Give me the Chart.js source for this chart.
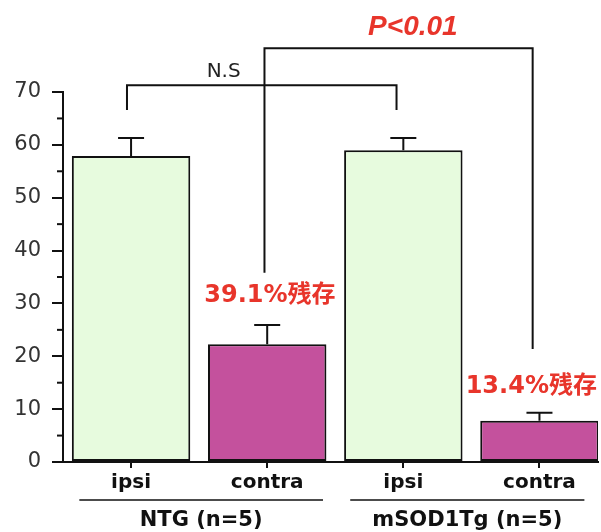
<!DOCTYPE html>
<html>
<head>
<meta charset="utf-8">
<script src="https://cdn.jsdelivr.net/npm/chart.js@4.4.1/dist/chart.umd.min.js"></script>
<style>
  html, body { margin: 0; padding: 0; background: #fff; }
  #wrap { width: 601px; height: 532px; }
</style>
</head>
<body>
<div id="wrap"><canvas id="c"></canvas></div>
<script>
  // ── Data ──
  var categories = ['ipsi', 'contra', 'ipsi', 'contra'];
  var values = [57.9, 22.3, 59.0, 7.8];
  var errors = [3.4, 3.6, 2.3, 1.5];
  var groups = ['NTG (n=5)', 'mSOD1Tg (n=5)'];
  var groupSpans = [[-0.38, 1.41], [1.61, 3.33]];
  var remainLabels = ['39.1%残存', '13.4%残存'];
  var yTicks = [0, 10, 20, 30, 40, 50, 60, 70];
  var yMinorTicks = [5, 15, 25, 35, 45, 55, 65];

  var GREEN = '#e7fbde';
  var MAGENTA = '#c4519d';
  var RED = '#e8352b';
  var INK = '#111';

  var barColors = [GREEN, MAGENTA, GREEN, MAGENTA];

  // ── Overlay plugin: error bars, minor ticks, brackets, labels ──
  var overlay = {
    id: 'overlay',
    afterDatasetsDraw: function (chart) {
      var ctx = chart.ctx;
      var x = chart.scales.x, y = chart.scales.y;
      var area = chart.chartArea;
      ctx.save();
      ctx.strokeStyle = INK;
      ctx.lineWidth = 2;
      ctx.lineCap = 'butt';

      // error bars (upper only)
      values.forEach(function (v, i) {
        var px = x.getPixelForValue(i);
        var top = y.getPixelForValue(v + errors[i]);
        ctx.beginPath();
        ctx.moveTo(px, y.getPixelForValue(v));
        ctx.lineTo(px, top);
        ctx.moveTo(px - 13, top);
        ctx.lineTo(px + 13, top);
        ctx.stroke();
      });

      // minor y ticks
      yMinorTicks.forEach(function (t) {
        var py = y.getPixelForValue(t);
        ctx.beginPath();
        ctx.moveTo(area.left - 6, py);
        ctx.lineTo(area.left, py);
        ctx.stroke();
      });

      // N.S bracket
      var l1 = x.getPixelForValue(-0.03), r1 = x.getPixelForValue(1.95);
      var top1 = y.getPixelForValue(71.3), leg1 = y.getPixelForValue(66.6);
      ctx.beginPath();
      ctx.moveTo(l1, leg1); ctx.lineTo(l1, top1); ctx.lineTo(r1, top1); ctx.lineTo(r1, leg1);
      ctx.stroke();

      // P bracket
      var l2 = x.getPixelForValue(0.98), r2 = x.getPixelForValue(2.95);
      var top2 = y.getPixelForValue(78.3);
      ctx.beginPath();
      ctx.moveTo(l2, y.getPixelForValue(35.8)); ctx.lineTo(l2, top2);
      ctx.lineTo(r2, top2); ctx.lineTo(r2, y.getPixelForValue(21.4));
      ctx.stroke();

      ctx.textAlign = 'center';
      ctx.textBaseline = 'middle';

      ctx.fillStyle = '#222';
      ctx.font = "20px 'DejaVu Sans'";
      ctx.fillText('N.S', x.getPixelForValue(0.68), y.getPixelForValue(73.9));

      ctx.fillStyle = RED;
      ctx.font = "italic bold 28px 'Liberation Sans'";
      ctx.fillText('P<0.01', x.getPixelForValue(2.07), y.getPixelForValue(82.3));

      ctx.font = "bold 24px 'DejaVu Sans', 'Noto Sans CJK JP'";
      ctx.fillText(remainLabels[0], x.getPixelForValue(1.02), y.getPixelForValue(31.5));
      ctx.fillText(remainLabels[1], x.getPixelForValue(2.94), y.getPixelForValue(14.2));

      // group lines and labels
      ctx.fillStyle = INK;
      ctx.lineWidth = 1.5;
      ctx.font = "bold 21px 'DejaVu Sans'";
      groups.forEach(function (g, i) {
        var a = x.getPixelForValue(groupSpans[i][0]);
        var b = x.getPixelForValue(groupSpans[i][1]);
        ctx.beginPath();
        ctx.moveTo(a, area.bottom + 38);
        ctx.lineTo(b, area.bottom + 38);
        ctx.stroke();
        ctx.fillText(g, (a + b) / 2, area.bottom + 59);
      });
      ctx.restore();
    }
  };

  new Chart(document.getElementById('c'), {
    type: 'bar',
    data: {
      datasets: [{
        data: values.map(function (v, i) { return { x: i, y: v }; }),
        backgroundColor: barColors,
        borderColor: INK,
        borderWidth: 2,
        borderSkipped: false,
        barPercentage: 0.87,
        categoryPercentage: 1
      }]
    },
    options: {
      responsive: true,
      maintainAspectRatio: false,
      animation: false,
      layout: { padding: { top: 92, right: 3, bottom: 0, left: 0 } },
      plugins: { legend: { display: false }, tooltip: { enabled: false } },
      scales: {
        x: {
          type: 'linear',
          min: -0.5,
          max: 3.43,
          offset: false,
          afterBuildTicks: function (scale) {
            scale.ticks = categories.map(function (c, i) { return { value: i }; });
          },
          afterFit: function (scale) { scale.height = 70; },
          grid: { offset: false, drawOnChartArea: false, tickLength: 6, color: INK, lineWidth: 2 },
          border: { color: INK, width: 2 },
          ticks: {
            autoSkip: false,
            maxRotation: 0,
            padding: 3,
            color: INK,
            font: { family: "'DejaVu Sans'", size: 20, weight: 'bold' },
            callback: function (v) { return categories[v]; }
          }
        },
        y: {
          min: 0,
          max: 70,
          afterBuildTicks: function (scale) {
            scale.ticks = yTicks.map(function (t) { return { value: t }; });
          },
          afterFit: function (scale) { scale.width = 63; },
          grid: { drawOnChartArea: false, tickLength: 11, color: INK, lineWidth: 2 },
          border: { color: INK, width: 2 },
          ticks: {
            padding: 11,
            color: '#333',
            font: { family: "'DejaVu Sans'", size: 21 }
          }
        }
      }
    },
    plugins: [overlay]
  });
</script>
</body>
</html>
